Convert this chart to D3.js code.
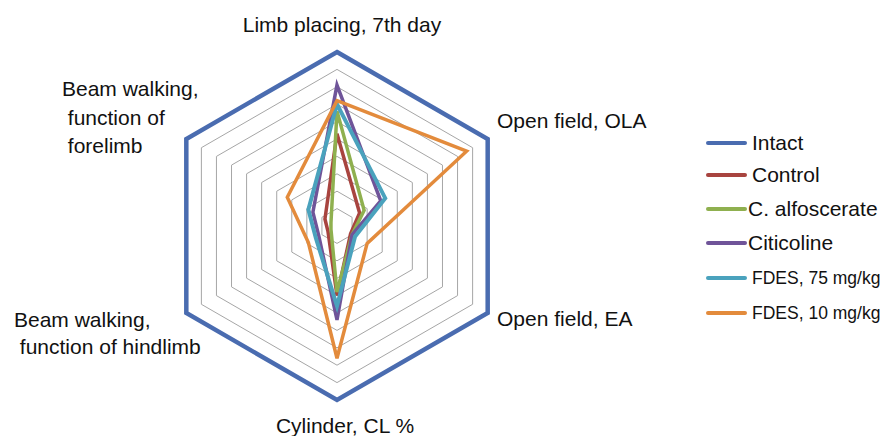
<!DOCTYPE html>
<html>
<head>
<meta charset="utf-8">
<script src="https://cdn.jsdelivr.net/npm/d3@7"></script>
<style>
  html, body { margin: 0; padding: 0; background: #fff; }
  svg { display: block; font-family: "Liberation Sans", Arial, sans-serif; }
</style>
</head>
<body>
<svg id="chart" width="886" height="436"></svg>
<script>
const axes = [
  "Limb placing, 7th day",
  "Open field, OLA",
  "Open field, EA",
  "Cylinder, CL %",
  "Beam walking, function of hindlimb",
  "Beam walking, function of forelimb"
];
const seriesNames = ["Intact", "Control", "C. alfoscerate", "Citicoline", "FDES, 75 mg/kg", "FDES, 10 mg/kg"];
const intact       = [1.00, 1.00, 1.00, 1.00, 1.00, 1.00];
const control      = [0.53, 0.15, 0.09, 0.40, 0.06, 0.08];
const alfoscerate  = [0.66, 0.18, 0.10, 0.38, 0.04, 0.04];
const citicoline   = [0.81, 0.29, 0.10, 0.54, 0.12, 0.16];
const fdes75       = [0.70, 0.32, 0.12, 0.46, 0.14, 0.19];
const fdes10       = [0.72, 0.86, 0.20, 0.76, 0.19, 0.33];
const gridLevels   = [0.1, 0.2, 0.3, 0.4, 0.5, 0.6, 0.7, 0.8, 0.9];

const colors = ["#4a6cb0", "#a8443f", "#8fb04f", "#6f5499", "#4aa2bd", "#e38b3c"];
const allSeries = [intact, control, alfoscerate, citicoline, fdes75, fdes10];

const svg = d3.select("#chart");
const cx = 337, cy = 226, R = 174;
const r = d3.scaleLinear().domain([0, 1]).range([0, R]);
const angle = d3.scaleLinear().domain([0, axes.length]).range([0, 2 * Math.PI]);

const radial = d3.lineRadial()
  .angle((d, i) => angle(i))
  .radius(d => r(d))
  .curve(d3.curveLinearClosed);

const g = svg.append("g").attr("transform", `translate(${cx},${cy})`);

// grid rings
g.selectAll("path.grid").data(gridLevels).enter().append("path")
  .attr("class", "grid")
  .attr("d", lv => radial(axes.map(() => lv)))
  .attr("fill", "none")
  .attr("stroke", "#a6a6a6")
  .attr("stroke-width", 1);

// series
const widths = [4.5, 3.5, 3.5, 3.5, 4, 3.5];
g.selectAll("path.series").data(allSeries).enter().append("path")
  .attr("class", "series")
  .attr("d", d => radial(d))
  .attr("fill", "none")
  .attr("stroke", (d, i) => colors[i])
  .attr("stroke-width", (d, i) => widths[i])
  .attr("stroke-linejoin", "miter");

// axis labels
const labelFont = 21;
const labels = [
  { lines: ["Limb placing, 7th day"], x: 342, y: 32, anchor: "middle" },
  { lines: ["Open field, OLA"], x: 497, y: 128, anchor: "start" },
  { lines: ["Open field, EA"], x: 497, y: 326, anchor: "start" },
  { lines: ["Cylinder, CL %"], x: 345, y: 433, anchor: "middle" },
  { lines: ["Beam walking,", " function of hindlimb"], x: 14, y: 327, anchor: "start", lh: 27 },
  { lines: ["Beam walking,", " function of", " forelimb"], x: 62, y: 96, anchor: "start", lh: 28.5 }
];
labels.forEach(l => {
  const t = svg.append("text")
    .attr("x", l.x).attr("y", l.y)
    .attr("text-anchor", l.anchor)
    .attr("font-size", labelFont)
    .attr("fill", "#111")
    .style("white-space", "pre");
  l.lines.forEach((s, i) => {
    t.append("tspan").attr("x", l.x).attr("dy", i === 0 ? 0 : l.lh).text(s);
  });
});

// legend
const legendY = [143, 175, 209, 243, 278, 313];
const legendFont = [21, 21, 21, 21, 17.5, 17.5];
const legendLineX = [708, 745];
const legendTextX = [752, 752, 748, 748, 752, 752];
const leg = svg.append("g");
seriesNames.forEach((name, i) => {
  leg.append("line")
    .attr("x1", legendLineX[0]).attr("x2", legendLineX[1])
    .attr("y1", legendY[i]).attr("y2", legendY[i])
    .attr("stroke", colors[i]).attr("stroke-width", 4)
    .attr("stroke-linecap", "round");
  leg.append("text")
    .attr("x", legendTextX[i]).attr("y", legendY[i])
    .attr("dy", "0.35em")
    .attr("font-size", legendFont[i])
    .attr("fill", "#111")
    .text(name);
});
</script>
</body>
</html>
